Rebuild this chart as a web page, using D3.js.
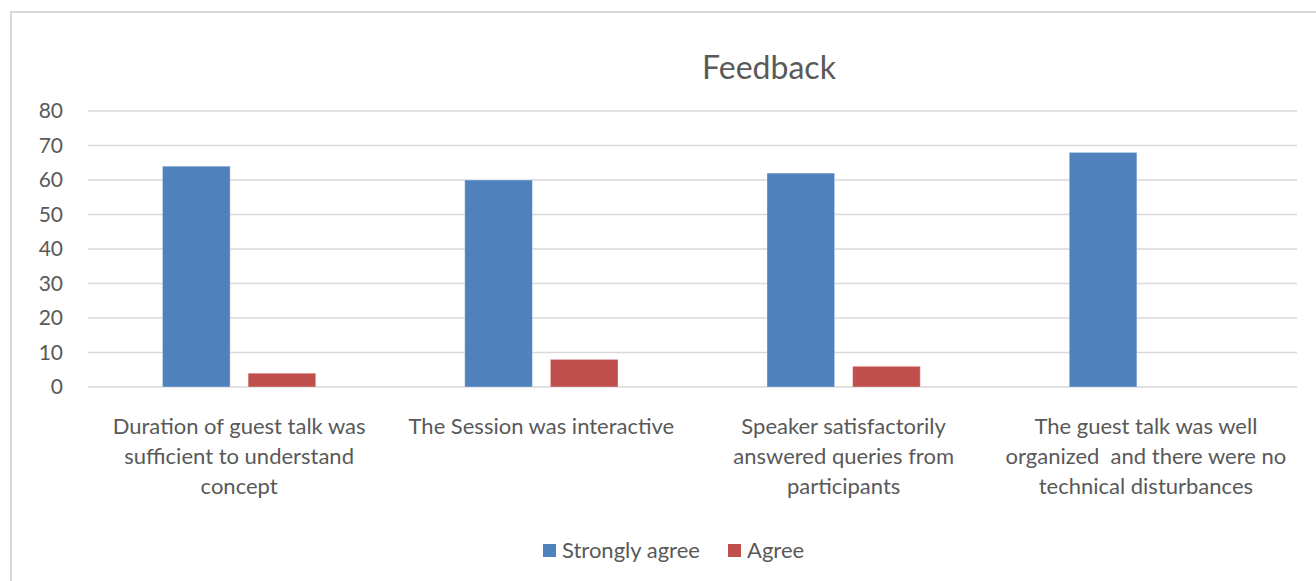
<!DOCTYPE html>
<html>
<head>
<meta charset="utf-8">
<script src="https://cdn.jsdelivr.net/npm/d3@7"></script>
<style>
  html, body { margin: 0; padding: 0; background: #fff; }
  svg { display: block; }
  text { font-family: Lato, "Liberation Sans", sans-serif; fill: #595959; white-space: pre; }
</style>
</head>
<body>
<div id="chart"></div>
<script>
// Survey responses per feedback statement
const categories = [
  "Duration of guest talk was sufficient to understand concept",
  "The Session was interactive",
  "Speaker satisfactorily answered queries from participants",
  "The guest talk was well organized  and there were no technical disturbances"
];
const seriesNames = ["Strongly agree", "Agree"];
const stronglyAgree = [64, 60, 62, 68];
const agree = [4, 8, 6, 0];
const yTicks = [0, 10, 20, 30, 40, 50, 60, 70, 80];
const colors = ["#4F81BD", "#C0504D"];

const W = 1316, H = 581;
const margin = { left: 88, right: 19, top: 111, bottom: 194 };
const plotW = W - margin.left - margin.right;
const plotH = H - margin.top - margin.bottom;
const labelFont = "22px";

const svg = d3.select("#chart").append("svg")
  .attr("width", W).attr("height", H);

// chart frame
svg.append("rect")
  .attr("x", 11).attr("y", 12)
  .attr("width", W + 20).attr("height", H + 20)
  .attr("fill", "#fff").attr("stroke", "#D9D9D9").attr("stroke-width", 2);

svg.append("text")
  .attr("x", 769).attr("y", 79)
  .attr("text-anchor", "middle")
  .style("font-size", "32px")
  .text("Feedback");

const g = svg.append("g").attr("transform", `translate(${margin.left},${margin.top})`);

const y = d3.scaleLinear().domain([0, 80]).range([plotH, 0]);
const x0 = d3.scaleBand().domain(categories).range([0, plotW]).padding(0);
const x1 = d3.scaleBand().domain(seriesNames).range([0, x0.bandwidth()])
  .paddingInner(0.21).paddingOuter(0.87);

// gridlines
g.append("g")
  .selectAll("line").data(yTicks).join("line")
  .attr("x1", 0).attr("x2", plotW)
  .attr("y1", d => y(d)).attr("y2", d => y(d))
  .attr("stroke", "#D9D9D9").attr("stroke-width", 1.3);

// y axis labels
const yAxis = d3.axisLeft(y).tickValues(yTicks).tickSize(0).tickPadding(25);
g.append("g").call(yAxis)
  .call(a => a.select(".domain").remove())
  .selectAll("text")
  .style("font-size", "21px")
  .style("font-family", "Lato, 'Liberation Sans', sans-serif")
  .attr("fill", "#595959");

// bars
const rows = categories.map((c, i) => ({ c, vals: [stronglyAgree[i], agree[i]] }));
const grp = g.selectAll(".cat").data(rows).join("g")
  .attr("class", "cat")
  .attr("transform", d => `translate(${x0(d.c)},0)`);
grp.selectAll("rect")
  .data(d => d.vals.map((v, k) => ({ key: seriesNames[k], v, k })))
  .join("rect")
  .attr("x", d => x1(d.key))
  .attr("width", x1.bandwidth())
  .attr("y", d => y(d.v))
  .attr("height", d => plotH - y(d.v))
  .attr("fill", d => colors[d.k])
  .attr("stroke", d => d.v > 0 ? "rgba(255,255,255,0.35)" : "none")
  .attr("stroke-width", 1);

// category labels, wrapped
const xAxis = d3.axisBottom(x0).tickSize(0).tickPadding(0);
const xa = g.append("g").attr("transform", `translate(0,${plotH})`).call(xAxis);
xa.select(".domain").remove();
xa.selectAll("text")
  .style("font-size", labelFont)
  .style("font-family", "Lato, 'Liberation Sans', sans-serif")
  .attr("fill", "#595959")
  .attr("dy", null)
  .each(function(d) { wrap(d3.select(this), d, 286); });

function wrap(t, str, width) {
  const words = str.split(" ");
  t.text(null);
  let line = [];
  let lineNo = 0;
  let tspan = t.append("tspan").attr("x", 0).attr("y", 47);
  words.forEach(w => {
    line.push(w);
    tspan.text(line.join(" "));
    if (tspan.node().getComputedTextLength() > width && line.length > 1) {
      line.pop();
      tspan.text(line.join(" "));
      line = [w];
      lineNo++;
      tspan = t.append("tspan").attr("x", 0).attr("y", 47 + lineNo * 30).text(w);
    }
  });
}

// legend
const legend = svg.append("g").attr("transform", "translate(543,544)");
const items = [{ name: seriesNames[0], x: 0 }, { name: seriesNames[1], x: 185 }];
items.forEach((it, i) => {
  legend.append("rect").attr("x", it.x).attr("y", 0).attr("width", 13).attr("height", 13)
    .attr("fill", colors[i]);
  legend.append("text").attr("x", it.x + 19).attr("y", 14)
    .style("font-size", labelFont).text(it.name);
});
</script>
</body>
</html>
